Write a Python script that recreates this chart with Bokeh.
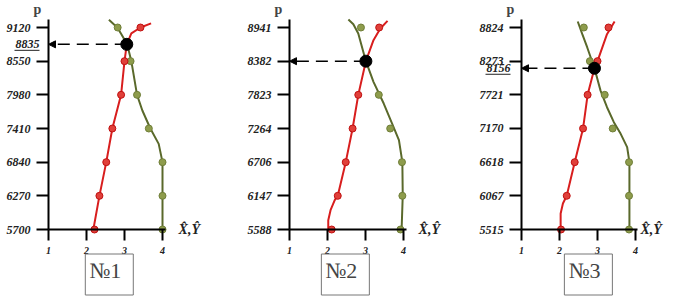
from bokeh.plotting import figure
from bokeh.models import Range1d, FixedTicker, Label, Arrow, NormalHead
from bokeh.layouts import row
from bokeh.embed import file_html
from bokeh.resources import INLINE

# ---------------- data ----------------
x_ticks = [1, 2, 3, 4]

# Panel 1
p1_ticks = [5700, 6270, 6840, 7410, 7980, 8550, 9120]
p1_red = [2.21, 2.34, 2.52, 2.68, 2.91, 3.00, 3.42]
p1_green = [4.00, 4.00, 4.00, 3.64, 3.33, 3.16, 2.82]
p1_red_curve_x = [2.18, 2.34, 2.52, 2.68, 2.91, 3.00, 3.06, 3.18, 3.42, 3.70]
p1_red_curve_y = [5700, 6270, 6840, 7410, 7980, 8550, 8835, 9020, 9120, 9190]
p1_green_curve_x = [4.00, 4.00, 4.00, 3.90, 3.68, 3.47, 3.33, 3.18, 3.07, 2.91, 2.81, 2.59]
p1_green_curve_y = [5700, 6270, 6840, 7150, 7410, 7715, 7980, 8550, 8835, 9013, 9120, 9250]
p1_cross_x = [3.06]
p1_cross_y = [8835]

# Panel 2
p2_ticks = [5588, 6147, 6706, 7264, 7823, 8382, 8941]
p2_red = [2.11, 2.27, 2.48, 2.66, 2.81, 2.98, 3.36]
p2_green = [3.92, 3.97, 3.96, 3.65, 3.35, 3.03, 2.88]
p2_red_curve_x = [2.02, 2.02, 2.08, 2.19, 2.27, 2.48, 2.66, 2.81, 3.01, 3.21, 3.39, 3.58]
p2_red_curve_y = [5588, 5743, 5909, 6075, 6147, 6706, 7264, 7823, 8382, 8731, 8925, 9052]
p2_green_curve_x = [3.95, 3.98, 3.97, 3.88, 3.70, 3.48, 3.21, 3.01, 2.81, 2.68, 2.55]
p2_green_curve_y = [5588, 6147, 6706, 7071, 7347, 7679, 8039, 8382, 8841, 8996, 9074]
p2_cross_x = [3.01]
p2_cross_y = [8382]

# Panel 3
p3_ticks = [5515, 6067, 6618, 7170, 7721, 8273, 8824]
p3_red = [2.04, 2.19, 2.40, 2.62, 2.74, 3.00, 3.29]
p3_green = [3.83, 3.83, 3.83, 3.40, 3.19, 2.80, 2.64]
p3_red_curve_x = [2.03, 2.03, 2.09, 2.19, 2.40, 2.62, 2.74, 2.92, 3.00, 3.25, 3.45]
p3_red_curve_y = [5515, 5776, 5940, 6067, 6618, 7170, 7721, 8156, 8273, 8715, 8922]
p3_green_curve_x = [3.84, 3.84, 3.84, 3.78, 3.61, 3.43, 3.25, 3.08, 2.92, 2.73, 2.60, 2.48]
p3_green_curve_y = [5515, 6067, 6618, 6865, 7082, 7273, 7518, 7790, 8156, 8497, 8715, 8922]
p3_cross_x = [2.92]
p3_cross_y = [8156]

titles = ["№1", "№2", "№3"]
y_axis_name = "p"
x_axis_name = "X\u0302,Y\u0302"

# ---------------- styling / geometry ----------------
RED_LINE = "#d81e1e"
RED_FILL = "#e0403a"
GREEN_LINE = "#5a692b"
GREEN_FILL = "#8e9c4c"
SERIF = "Liberation Serif"
FIG_H = 297
AX_Y = 229        # pixel row of the X axis (from top of figure)
TICK_SPAN = 202   # pixels between first and last p tick
PPX = 38.0        # pixels per unit on X


def panel(width, ax_x, x_axis_end, ticks, red, green, rcx, rcy, gcx, gcy,
          cx, cy, title, extra_dx, name_dx, box_x):
    y0 = ticks[0]
    upp = (ticks[-1] - y0) / TICK_SPAN
    x_start = 1.0 - ax_x / PPX
    x_stop = 1.0 + (width - ax_x) / PPX
    y_start = y0 - (FIG_H - AX_Y) * upp
    y_stop = y0 + AX_Y * upp
    y_axis_top = y0 + (AX_Y - 19) * upp

    p = figure(width=width, height=FIG_H, output_backend="svg",
               toolbar_location=None,
               x_range=Range1d(x_start, x_stop), y_range=Range1d(y_start, y_stop),
               min_border=0)
    p.min_border_left = 0
    p.min_border_right = 0
    p.min_border_top = 0
    p.min_border_bottom = 0
    p.outline_line_color = None
    p.xgrid.visible = False
    p.ygrid.visible = False
    p.background_fill_color = "white"

    # axes fixed inside the frame
    xa = p.xaxis[0]
    ya = p.yaxis[0]
    xa.fixed_location = y0
    ya.fixed_location = 1.0
    xa.bounds = (1.0, x_axis_end)
    ya.bounds = (y0, y_axis_top)
    ya.ticker = FixedTicker(ticks=ticks)
    ya.major_label_overrides = {t: str(t) for t in ticks}
    xa.ticker = FixedTicker(ticks=x_ticks)
    xa.major_label_overrides = {t: str(t) for t in x_ticks}
    for ax in (xa, ya):
        ax.axis_line_width = 2
        ax.axis_line_color = "black"
        ax.major_tick_line_width = 2
        ax.major_tick_line_color = "black"
        ax.major_tick_in = 0
        ax.minor_tick_line_color = None
        ax.major_label_text_font = SERIF
        ax.major_label_text_font_style = "bold italic"
        ax.major_label_text_color = "#222222"
    ya.major_tick_out = 12
    ya.major_label_standoff = 6
    ya.major_label_text_font_size = "12px"
    xa.major_tick_out = 11
    xa.major_label_standoff = 6
    xa.major_label_text_font_size = "10px"

    # curves
    p.line(gcx, gcy, line_color=GREEN_LINE, line_width=2)
    p.line(rcx, rcy, line_color=RED_LINE, line_width=2)
    # markers
    p.scatter(green, ticks, size=7, fill_color=GREEN_FILL, line_color="#6f7e38", line_width=1)
    p.scatter(red, ticks, size=7, fill_color=RED_FILL, line_color="#c01010", line_width=1)

    # dashed arrow from intersection to the p-axis
    p.add_layout(Arrow(x_start=cx[0], y_start=cy[0], x_end=1.0, y_end=cy[0],
                       line_dash="12 7", line_width=1.5, line_color="black",
                       end=NormalHead(size=7, fill_color="black", line_color="black")))
    p.scatter(cx, cy, size=12, fill_color="black", line_color="black")

    # axis names
    p.add_layout(Label(x=1.0 - 11 / PPX, y=y_axis_top + 3 * upp, text=y_axis_name,
                       text_align="center", text_baseline="bottom",
                       text_font=SERIF, text_font_style="bold", text_font_size="14px"))
    p.add_layout(Label(x=x_axis_end + name_dx / PPX, y=y0, text=x_axis_name,
                       text_align="left", text_baseline="middle",
                       text_font=SERIF, text_font_style="bold italic",
                       text_font_size="14px", text_color="#222222"))

    # extra underlined label at the intersection level
    if extra_dx is not None:
        rx = 1.0 - extra_dx / PPX
        p.add_layout(Label(x=rx, y=cy[0], text=str(cy[0]),
                           text_align="right", text_baseline="middle",
                           text_font=SERIF, text_font_style="bold italic",
                           text_font_size="12px", text_color="#222222"))
        p.segment(x0=[rx - 25 / PPX], y0=[cy[0] - 6 * upp], x1=[rx],
                  y1=[cy[0] - 6 * upp], line_width=1, line_color="#222222")

    # numbered box
    p.add_layout(Label(x=box_x, y=y0 - 45 * upp, text=title,
                       text_align="center", text_baseline="middle",
                       text_font=SERIF, text_font_size="22px",
                       border_line_color="#777777", border_line_width=1,
                       background_fill_color="white", padding=(4, 12, 4, 12)))
    return p


f1 = panel(240, 48, 4.08, p1_ticks, p1_red, p1_green,
           p1_red_curve_x, p1_red_curve_y, p1_green_curve_x, p1_green_curve_y,
           p1_cross_x, p1_cross_y, titles[0], 9, 13, 2.6)
f2 = panel(232, 49, 4.08, p2_ticks, p2_red, p2_green,
           p2_red_curve_x, p2_red_curve_y, p2_green_curve_x, p2_green_curve_y,
           p2_cross_x, p2_cross_y, titles[1], None, 12, 2.47)
f3 = panel(204, 49, 4.05, p3_ticks, p3_red, p3_green,
           p3_red_curve_x, p3_red_curve_y, p3_green_curve_x, p3_green_curve_y,
           p3_cross_x, p3_cross_y, titles[2], 11, 3, 2.76)

layout = row(f1, f2, f3)
open("out.html", "w").write(file_html(layout, INLINE))
